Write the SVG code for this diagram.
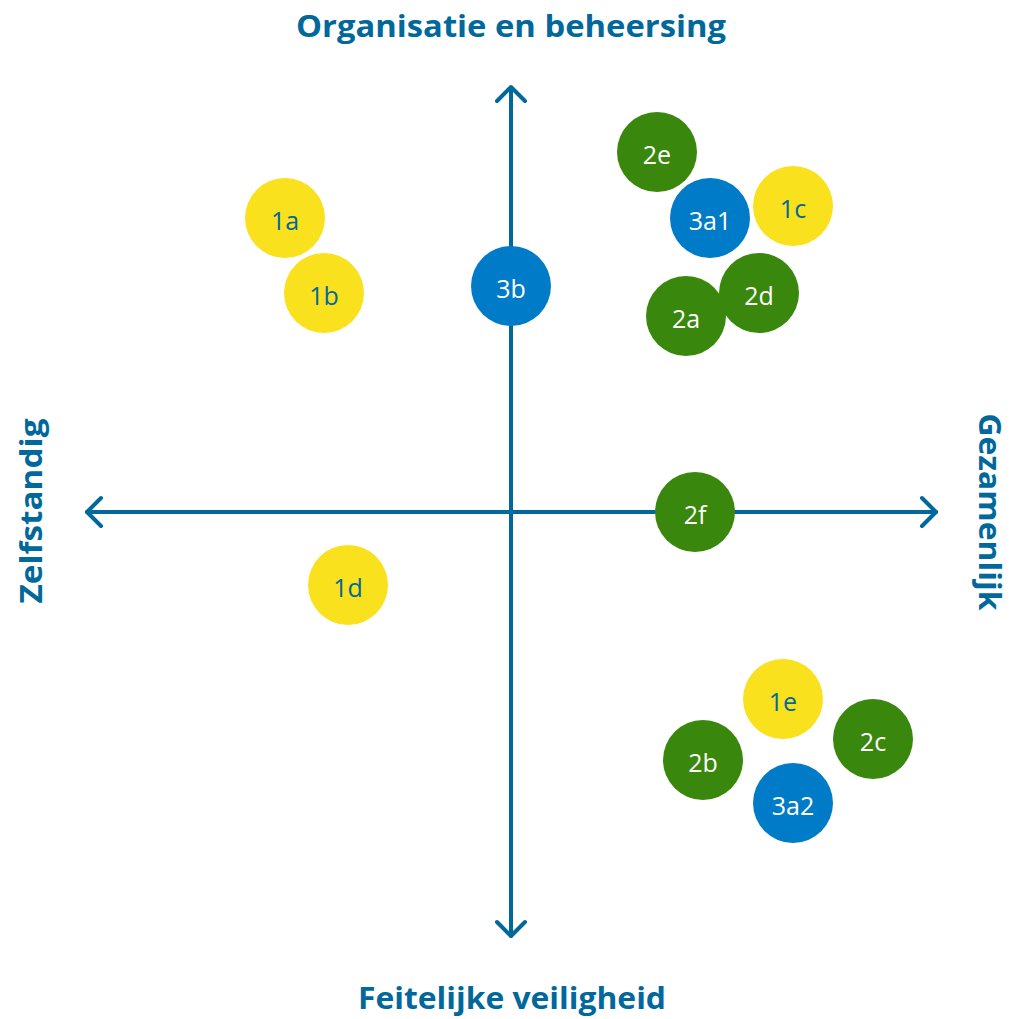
<svg xmlns="http://www.w3.org/2000/svg" width="1011" height="1019" viewBox="0 0 1011 1019">
  <style>
    .axis { fill: none; stroke: #01689b; stroke-width: 4; stroke-linecap: round; stroke-linejoin: round; }
    .title { font-family: "Open Sans", "Liberation Sans", sans-serif; font-weight: bold; font-size: 31px; fill: #01689b; text-anchor: middle; }
    .lbl { font-family: "Open Sans", "Liberation Sans", sans-serif; font-size: 25px; text-anchor: middle; }
    .y circle { fill: #f9e11e; }
    .y text { fill: #01689b; }
    .g circle { fill: #39870c; }
    .g text { fill: #ffffff; }
    .b circle { fill: #007bc7; }
    .b text { fill: #ffffff; }
  </style>
  <rect width="1011" height="1019" fill="#ffffff"/>
  <g id="connectors">
    <path class="axis" d="M511 88 V936"/>
    <path class="axis" d="M497 101 L511 87 L525 101"/>
    <path class="axis" d="M497 922 L511 936 L525 922"/>
    <path class="axis" d="M87 512 H936"/>
    <path class="axis" d="M101 498 L87 512 L101 526"/>
    <path class="axis" d="M922 498 L936 512 L922 526"/>
  </g>
  <g id="axis-labels">
    <text class="title" x="511" y="37" textLength="430" lengthAdjust="spacingAndGlyphs">Organisatie en beheersing</text>
    <text class="title" x="512" y="1009" textLength="308" lengthAdjust="spacingAndGlyphs">Feitelijke veiligheid</text>
    <text class="title" transform="translate(42 511) rotate(-90)" textLength="185" lengthAdjust="spacingAndGlyphs">Zelfstandig</text>
    <text class="title" transform="translate(979 512) rotate(90)" textLength="197" lengthAdjust="spacingAndGlyphs">Gezamenlijk</text>
  </g>
  <g id="n1a" class="y"><circle cx="285" cy="218" r="40"/><text class="lbl" x="285" y="230">1a</text></g>
  <g id="n1b" class="y"><circle cx="324" cy="293" r="40"/><text class="lbl" x="324" y="305">1b</text></g>
  <g id="n3b" class="b"><circle cx="511" cy="286" r="40"/><text class="lbl" x="511" y="298">3b</text></g>
  <g id="n2e" class="g"><circle cx="657" cy="152" r="40"/><text class="lbl" x="657" y="164">2e</text></g>
  <g id="n3a1" class="b"><circle cx="710" cy="218" r="40"/><text class="lbl" x="710" y="230">3a1</text></g>
  <g id="n1c" class="y"><circle cx="793" cy="206" r="40"/><text class="lbl" x="793" y="218">1c</text></g>
  <g id="n2a" class="g"><circle cx="686" cy="316" r="40"/><text class="lbl" x="686" y="328">2a</text></g>
  <g id="n2d" class="g"><circle cx="759" cy="293" r="40"/><text class="lbl" x="759" y="305">2d</text></g>
  <g id="n2f" class="g"><circle cx="695" cy="512" r="40"/><text class="lbl" x="695" y="524">2f</text></g>
  <g id="n1d" class="y"><circle cx="348" cy="585" r="40"/><text class="lbl" x="348" y="597">1d</text></g>
  <g id="n1e" class="y"><circle cx="783" cy="699" r="40"/><text class="lbl" x="783" y="711">1e</text></g>
  <g id="n2c" class="g"><circle cx="873" cy="739" r="40"/><text class="lbl" x="873" y="751">2c</text></g>
  <g id="n2b" class="g"><circle cx="703" cy="760" r="40"/><text class="lbl" x="703" y="772">2b</text></g>
  <g id="n3a2" class="b"><circle cx="793" cy="803" r="40"/><text class="lbl" x="793" y="815">3a2</text></g>
</svg>
